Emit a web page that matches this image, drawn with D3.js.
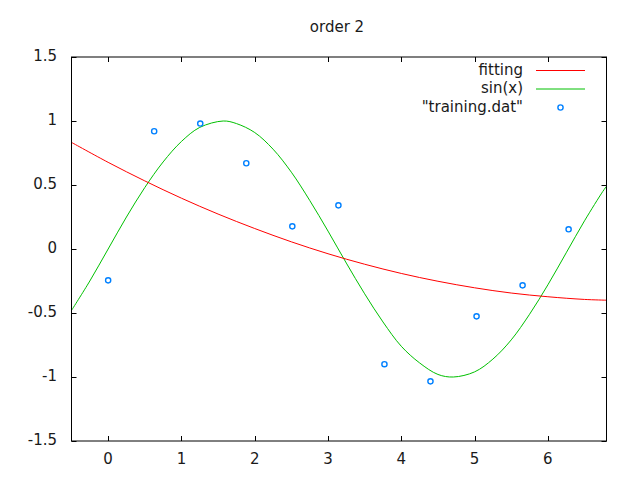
<!DOCTYPE html>
<html>
<head>
<meta charset="utf-8">
<script src="https://cdn.jsdelivr.net/npm/d3@7"></script>
<style>
  body { margin: 0; background: #fff; }
  text { font-family: "DejaVu Sans", sans-serif; font-size: 15px; fill: #1a1a1a; }
</style>
</head>
<body>
<figure id="graph" style="margin:0"></figure>
<script>
const title = 'order 2'
const xTicks = [0, 1, 2, 3, 4, 5, 6]
const yTicks = [-1.5, -1, -0.5, 0, 0.5, 1, 1.5]

// training.dat
const trainX = [0, 0.628, 1.257, 1.885, 2.513, 3.142, 3.770, 4.398, 5.027, 5.655, 6.283]
const trainY = [-0.245, 0.92, 0.98, 0.67, 0.177, 0.341, -0.90, -1.034, -0.526, -0.284, 0.154]

// fitted polynomial
const fitX = [-0.5, 0, 0.5, 1, 1.5, 2, 2.5, 3, 3.5, 4, 4.5, 5, 5.5, 6, 6.5, 6.8]
const fitY = [0.833, 0.677, 0.532, 0.397, 0.273, 0.16, 0.056, -0.037, -0.119, -0.191, -0.252, -0.303, -0.344, -0.373, -0.394, -0.40]

// sin(x) curve
const sinX = [-0.5, -0.25, 0, 0.25, 0.5, 0.75, 1, 1.25, 1.57, 1.75, 2, 2.25, 2.5, 2.75, 3, 3.25, 3.5, 3.75, 4, 4.25, 4.5, 4.71, 5, 5.25, 5.5, 5.75, 6, 6.25, 6.5, 6.75, 6.8]
const sinY = [-0.48, -0.25, 0, 0.25, 0.48, 0.68, 0.84, 0.95, 1.0, 0.98, 0.91, 0.78, 0.6, 0.38, 0.14, -0.11, -0.35, -0.57, -0.76, -0.89, -0.98, -1.0, -0.96, -0.86, -0.71, -0.51, -0.28, -0.03, 0.22, 0.45, 0.49]

const legendLabels = ['fitting', 'sin(x)', '"training.dat"']
const colors = { fit: '#ff0000', sin: '#00c000', pts: '#0080ff' }

const width = 640
const height = 480
const pLeft = 71.5, pRight = 606.5, pTop = 57, pBottom = 441
const tickLen = 5

const svg = d3.select('figure#graph')
  .append('svg')
  .attr('width', width)
  .attr('height', height)

const xScale = d3.scaleLinear().domain([-0.5, 6.8]).range([pLeft, pRight])
const yScale = d3.scaleLinear().domain([-1.5, 1.5]).range([pBottom, pTop])

// tick marks on all four sides, pointing inward
const axes = svg.append('g').attr('stroke', '#000').attr('stroke-width', 1)
xTicks.forEach(t => {
  const x = Math.round(xScale(t)) + 0.5
  axes.append('line').attr('x1', x).attr('x2', x).attr('y1', pBottom).attr('y2', pBottom - tickLen)
  axes.append('line').attr('x1', x).attr('x2', x).attr('y1', pTop).attr('y2', pTop + tickLen)
})
yTicks.forEach(t => {
  const y = Math.round(yScale(t)) + 0.5
  axes.append('line').attr('x1', pLeft).attr('x2', pLeft + tickLen).attr('y1', y).attr('y2', y)
  axes.append('line').attr('x1', pRight).attr('x2', pRight - tickLen).attr('y1', y).attr('y2', y)
})

svg.selectAll('.xlabel')
  .data(xTicks)
  .join('text')
  .attr('class', 'xlabel')
  .attr('x', d => xScale(d))
  .attr('y', pBottom + 23)
  .attr('text-anchor', 'middle')
  .text(d => d)

svg.selectAll('.ylabel')
  .data(yTicks)
  .join('text')
  .attr('class', 'ylabel')
  .attr('x', 57)
  .attr('y', d => yScale(d) + 4)
  .attr('text-anchor', 'end')
  .text(d => d)

svg.append('text')
  .attr('x', (pLeft + pRight) / 2 - 2)
  .attr('y', 32)
  .attr('text-anchor', 'middle')
  .text(title)

// clip curves to the plot frame
svg.append('clipPath').attr('id', 'plot')
  .append('rect').attr('x', pLeft).attr('y', pTop).attr('width', pRight - pLeft).attr('height', pBottom - pTop)

const line = d3.line()
  .x(d => xScale(d[0]))
  .y(d => yScale(d[1]))
  .curve(d3.curveCatmullRom)

svg.append('path')
  .datum(d3.zip(sinX, sinY))
  .attr('clip-path', 'url(#plot)')
  .attr('fill', 'none')
  .attr('stroke', colors.sin)
  .attr('stroke-width', 1)
  .attr('d', line)

svg.append('path')
  .datum(d3.zip(fitX, fitY))
  .attr('clip-path', 'url(#plot)')
  .attr('fill', 'none')
  .attr('stroke', colors.fit)
  .attr('stroke-width', 1)
  .attr('d', line)

svg.selectAll('.pt')
  .data(d3.zip(trainX, trainY))
  .join('circle')
  .attr('class', 'pt')
  .attr('cx', d => xScale(d[0]))
  .attr('cy', d => yScale(d[1]))
  .attr('r', 2.6)
  .attr('fill', 'none')
  .attr('stroke', colors.pts)
  .attr('stroke-width', 1.4)

// frame
svg.append('rect')
  .attr('x', pLeft).attr('y', pTop)
  .attr('width', pRight - pLeft).attr('height', pBottom - pTop)
  .attr('fill', 'none').attr('stroke', '#000').attr('stroke-width', 1)

// legend
const legend = svg.append('g')
const rowY = [70, 88.5, 107]
legendLabels.forEach((lab, i) => {
  legend.append('text')
    .attr('x', 523)
    .attr('y', rowY[i] + 4.5)
    .attr('text-anchor', 'end')
    .text(lab)
})
legend.append('line').attr('x1', 536).attr('x2', 585).attr('y1', rowY[0] + 0.5).attr('y2', rowY[0] + 0.5)
  .attr('stroke', colors.fit)
legend.append('line').attr('x1', 536).attr('x2', 585).attr('y1', rowY[1] + 0.5).attr('y2', rowY[1] + 0.5)
  .attr('stroke', colors.sin)
legend.append('circle').attr('cx', 560.5).attr('cy', rowY[2] + 0.5).attr('r', 2.6)
  .attr('fill', 'none').attr('stroke', colors.pts).attr('stroke-width', 1.4)
</script>
</body>
</html>
